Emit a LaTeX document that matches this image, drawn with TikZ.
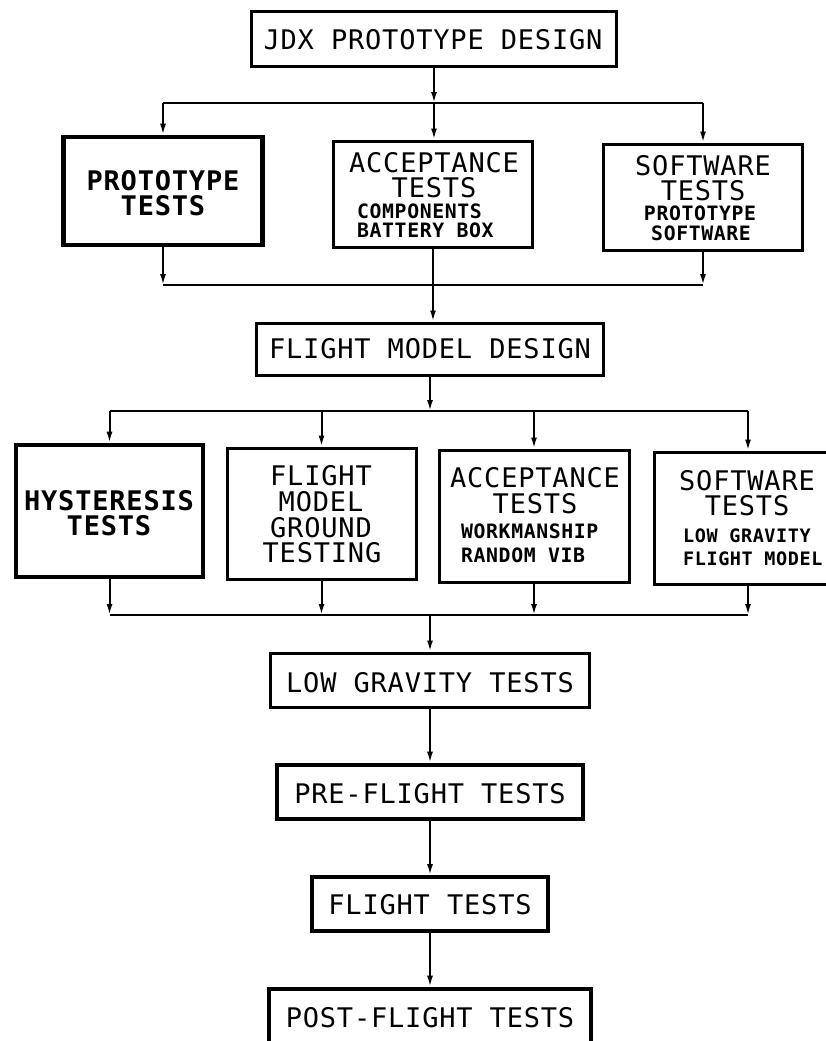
\documentclass[tikz,border=0pt]{standalone}
\usepackage{fontspec}
\newfontfamily\plotfont{DejaVu Sans Mono}[LetterSpace=3.0]
\usetikzlibrary{arrows.meta}
\begin{document}
\begin{tikzpicture}[x=1pt,y=-1pt,
  box/.style={draw, line width=3pt, inner sep=0pt},
  thickbox/.style={box, line width=4.6pt},
  big/.style={font=\plotfont\fontsize{27}{29}\selectfont, inner sep=0pt, anchor=base, text height=19.5pt, text depth=0pt},
  bigb/.style={big, font=\plotfont\bfseries\fontsize{27}{29}\selectfont},
  small/.style={font=\plotfont\bfseries\fontsize{19.8}{21}\selectfont, inner sep=0pt, anchor=base, text height=14.5pt, text depth=0pt},
  smallw/.style={small, anchor=base west},
  conn/.style={line width=2pt},
  arr/.style={conn, -{Latex[length=11pt,width=6pt]}}
]
\useasboundingbox (0,0) rectangle (826,1041);
\clip (0,0) rectangle (826,1041);
\fill[white] (0,0) rectangle (826,1041);

% boxes
\node[box, minimum width=365pt, minimum height=55pt] (top) at (433.5,39.5) {};
\node[thickbox, minimum width=199pt, minimum height=108pt] (proto) at (163,191) {};
\node[box, minimum width=199pt, minimum height=106pt] (acc1) at (433,194) {};
\node[box, minimum width=199pt, minimum height=106pt] (sw1) at (703,197) {};
\node[box, minimum width=347pt, minimum height=52pt] (fmd) at (430,349) {};
\node[thickbox, minimum width=187pt, minimum height=132pt] (hyst) at (109.5,511) {};
\node[box, minimum width=189pt, minimum height=131pt] (fmgt) at (321.5,513.5) {};
\node[box, minimum width=190pt, minimum height=132pt] (acc2) at (534,516) {};
\node[box, minimum width=188pt, minimum height=132pt] (sw2) at (748,518) {};
\node[box, minimum width=319pt, minimum height=54pt] (lg) at (430,680) {};
\node[thickbox, minimum width=306pt, minimum height=54pt] (pf) at (430,792) {};
\node[thickbox, line width=3.8pt, minimum width=236pt, minimum height=54pt] (ft) at (430,904) {};
\node[thickbox, minimum width=322pt, minimum height=58pt] (pof) at (430,1018) {};

% texts
\node[big] (t1) at (433,49) {JDX PROTOTYPE DESIGN};
\node[bigb] (t2a) at (163,190) {PROTOTYPE};
\node[bigb] (t2b) at (163,215) {TESTS};
\node[big] (t3a) at (434,172) {ACCEPTANCE};
\node[big] (t3b) at (434,197) {TESTS};
\node[smallw] (t3c) at (357,218) {COMPONENTS};
\node[smallw] (t3d) at (357,237) {BATTERY BOX};
\node[big] (t4a) at (703,175) {SOFTWARE};
\node[big] (t4b) at (703,200) {TESTS};
\node[small] (t4c) at (700,220) {PROTOTYPE};
\node[small] (t4d) at (701,240) {SOFTWARE};
\node[big] (t5) at (430,358) {FLIGHT MODEL DESIGN};
\node[bigb] (t6a) at (109,510) {HYSTERESIS};
\node[bigb] (t6b) at (109,535) {TESTS};
\node[big] (t7a) at (321,485) {FLIGHT};
\node[big] (t7b) at (321,511) {MODEL};
\node[big] (t7c) at (321,537) {GROUND};
\node[big] (t7d) at (322,562) {TESTING};
\node[big] (t8a) at (535,487) {ACCEPTANCE};
\node[big] (t8b) at (535,513) {TESTS};
\node[smallw] (t8c) at (461,538) {WORKMANSHIP};
\node[smallw] (t8d) at (461,562) {RANDOM VIB};
\node[big] (t9a) at (747,490) {SOFTWARE};
\node[big] (t9b) at (747,515) {TESTS};
\node[smallw, font=\plotfont\bfseries\fontsize{18.5}{20}\selectfont] (t9c) at (683,542) {LOW GRAVITY};
\node[smallw, font=\plotfont\bfseries\fontsize{18.5}{20}\selectfont] (t9d) at (683,565) {FLIGHT MODEL};
\node[big] (t10) at (430,692) {LOW GRAVITY TESTS};
\node[big] (t11) at (430,803) {PRE-FLIGHT TESTS};
\node[big] (t12) at (430,914) {FLIGHT TESTS};
\node[big] (t13) at (430,1027) {POST-FLIGHT TESTS};

% junction coordinates
\coordinate (j1) at (434,103);
\coordinate (j1l) at (163,103);
\coordinate (j1r) at (703,103);
\coordinate (b1l) at (163,285);
\coordinate (b1r) at (703,285);
\coordinate (j2) at (430,411);
\coordinate (j2l) at (109.5,411);
\coordinate (j2r) at (748,411);
\coordinate (b2l) at (109.5,615);
\coordinate (b2r) at (748,615);
\coordinate (b2c) at (430,615);

% connectors, upper part
\draw[arr] (top.south -| j1) -- (j1);
\draw[conn] (j1l) -- (j1r);
\draw[arr] (j1l) -- (proto.north);
\draw[arr] (j1) -- (acc1.north -| j1);
\draw[arr] (j1r) -- (sw1.north);
\draw[arr] (proto.south) -- (b1l);
\draw[arr] (sw1.south) -- (b1r);
\draw[conn] (b1l) -- (b1r);
\draw[arr] (acc1.south) -- (acc1.south |- fmd.north);

% connectors, middle part
\draw[arr] (fmd.south) -- (j2);
\draw[conn] (j2l) -- (j2r);
\draw[arr] (j2l) -- (hyst.north);
\draw[arr] (fmgt.north |- j2) -- (fmgt.north);
\draw[arr] (acc2.north |- j2) -- (acc2.north);
\draw[arr] (j2r) -- (sw2.north);
\draw[arr] (hyst.south) -- (b2l);
\draw[arr] (fmgt.south) -- (fmgt.south |- b2l);
\draw[arr] (acc2.south) -- (acc2.south |- b2l);
\draw[arr] (sw2.south) -- (b2r);
\draw[conn] (b2l) -- (b2r);
\draw[arr] (b2c) -- (lg.north);

% connectors, lower part
\draw[arr] (lg.south) -- (pf.north);
\draw[arr] (pf.south) -- (ft.north);
\draw[arr] (ft.south) -- (pof.north);
\end{tikzpicture}
\end{document}
